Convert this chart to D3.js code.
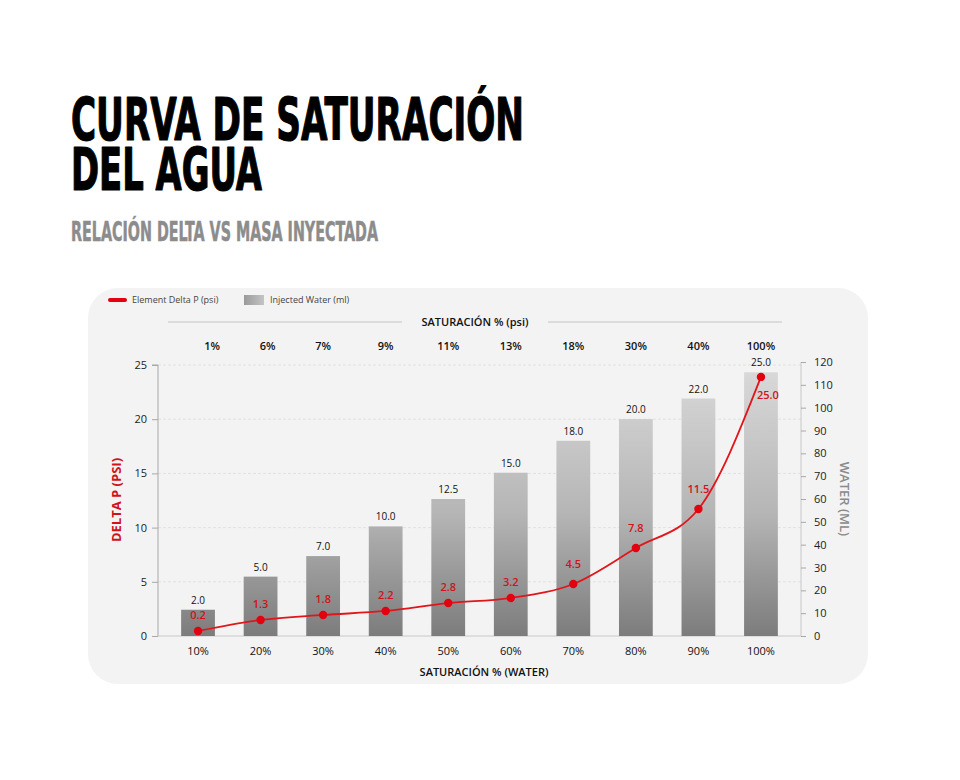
<!DOCTYPE html>
<html>
<head>
<meta charset="utf-8">
<script src="https://cdn.jsdelivr.net/npm/d3@7"></script>
<style>
  html, body { margin: 0; padding: 0; background: #ffffff; }
  svg { display: block; }
  .chart-text { font-family: "Open Sans", "Noto Sans", sans-serif; }
</style>
</head>
<body>
<svg id="chart" width="960" height="780"></svg>
<script>
// Data
const waterSat = ['10%', '20%', '30%', '40%', '50%', '60%', '70%', '80%', '90%', '100%'];
const psiSat = ['1%', '6%', '7%', '9%', '11%', '13%', '18%', '30%', '40%', '100%'];
// printed bar labels and bar heights as drawn (read on the right ml axis)
const waterLabels = [2.0, 5.0, 7.0, 10.0, 12.5, 15.0, 18.0, 20.0, 22.0, 25.0];
const waterMl = [11.5, 26, 35, 48, 60, 71.5, 85.5, 95, 104, 115.5];
// printed delta P labels and point heights as drawn (read on the left psi axis)
const deltaLabels = [0.2, 1.3, 1.8, 2.2, 2.8, 3.2, 4.5, 7.8, 11.5, 25.0];
const deltaP = [0.46, 1.48, 1.94, 2.31, 3.04, 3.51, 4.8, 8.12, 11.72, 23.9];
const leftTicks = [0, 5, 10, 15, 20, 25];
const rightTicks = [0, 10, 20, 30, 40, 50, 60, 70, 80, 90, 100, 110, 120];

const svg = d3.select('#chart');
const titleFont = '"Liberation Sans Narrow", "DejaVu Sans Condensed", "Liberation Sans", sans-serif';

// Titles (one text element, two lines)
const title = svg.append('text')
    .attr('font-family', titleFont).attr('font-weight', 700)
    .attr('font-size', 58).attr('fill', '#000')
    .attr('stroke', '#000').attr('stroke-width', 1.2)
    .attr('stroke-linejoin', 'round');
title.append('tspan')
    .attr('x', 71).attr('y', 140)
    .attr('textLength', 453).attr('lengthAdjust', 'spacingAndGlyphs')
    .text('CURVA DE SATURACIÓN');
title.append('tspan')
    .attr('x', 71).attr('y', 190)
    .attr('textLength', 191).attr('lengthAdjust', 'spacingAndGlyphs')
    .text('DEL AGUA');
svg.append('text')
    .attr('x', 71).attr('y', 241)
    .attr('font-family', titleFont).attr('font-weight', 700)
    .attr('font-size', 26).attr('fill', '#8c8c8c')
    .attr('stroke', '#8c8c8c').attr('stroke-width', 0.5)
    .attr('textLength', 307).attr('lengthAdjust', 'spacingAndGlyphs')
    .text('RELACIÓN DELTA VS MASA INYECTADA');

// Card
svg.append('rect')
    .attr('x', 88).attr('y', 288)
    .attr('width', 780).attr('height', 396)
    .attr('rx', 30)
    .attr('fill', '#f3f3f3');

const g = svg.append('g').attr('class', 'chart-text');

// Scales
const x = d3.scaleBand()
    .domain(waterSat)
    .range([158, 801])
    .paddingInner(0.46)
    .paddingOuter(0.37);
const yLeft = d3.scaleLinear().domain([0, 25]).range([636, 365]);
const yRight = d3.scaleLinear().domain([0, 120]).range([636, 362]);
const cx = i => x(waterSat[i]) + x.bandwidth() / 2;

// Gradient for bars
const defs = svg.append('defs');
const grad = defs.append('linearGradient')
    .attr('id', 'bar-grad')
    .attr('gradientUnits', 'userSpaceOnUse')
    .attr('x1', 0).attr('y1', yLeft(25))
    .attr('x2', 0).attr('y2', yLeft(0));
grad.append('stop').attr('offset', '0%').attr('stop-color', '#dadada');
grad.append('stop').attr('offset', '55%').attr('stop-color', '#b5b5b5');
grad.append('stop').attr('offset', '100%').attr('stop-color', '#7c7c7c');

const legendGrad = defs.append('linearGradient')
    .attr('id', 'legend-grad')
    .attr('x1', 0).attr('y1', 0).attr('x2', 1).attr('y2', 0);
legendGrad.append('stop').attr('offset', '0%').attr('stop-color', '#9a9a9a');
legendGrad.append('stop').attr('offset', '100%').attr('stop-color', '#c4c4c4');

// Gridlines
g.selectAll('.grid')
    .data(leftTicks.filter(d => d > 0))
    .enter().append('line')
    .attr('x1', 158).attr('x2', 801)
    .attr('y1', d => yLeft(d)).attr('y2', d => yLeft(d))
    .attr('stroke', '#dcdcdc')
    .attr('stroke-dasharray', '3,2')
    .attr('stroke-width', 0.8);

// Left axis
const leftAxis = d3.axisLeft(yLeft).tickValues(leftTicks).tickSize(6).tickPadding(5);
const gl = g.append('g').attr('transform', 'translate(158,0)').call(leftAxis);
gl.select('.domain').attr('stroke', '#a8a8a8').attr('d', `M-6,${yLeft(25)}H0V${yLeft(0)}`);
gl.selectAll('.tick line').attr('stroke', '#a8a8a8');
gl.selectAll('.tick text')
    .attr('font-family', '"Open Sans", "Noto Sans", sans-serif')
    .attr('font-size', 11).attr('fill', '#222');

// Right axis
const rightAxis = d3.axisRight(yRight).tickValues(rightTicks).tickSize(5).tickPadding(8);
const gr = g.append('g').attr('transform', 'translate(801,0)').call(rightAxis);
gr.select('.domain').attr('stroke', '#c8c8c8').attr('d', `M0,${yRight(120)}V${yRight(0)}`);
gr.selectAll('.tick line').attr('stroke', '#a8a8a8');
gr.selectAll('.tick text')
    .attr('font-family', '"Open Sans", "Noto Sans", sans-serif')
    .attr('font-size', 11).attr('fill', '#222');

// Baseline
g.append('line')
    .attr('x1', 158).attr('x2', 801)
    .attr('y1', yLeft(0)).attr('y2', yLeft(0))
    .attr('stroke', '#c8c8c8');

// Bars
g.selectAll('.bar')
    .data(waterMl)
    .enter().append('rect')
    .attr('x', (d, i) => x(waterSat[i]))
    .attr('width', x.bandwidth())
    .attr('y', d => yRight(d))
    .attr('height', d => yRight(0) - yRight(d))
    .attr('fill', 'url(#bar-grad)');

// Bar labels
g.selectAll('.bar-label')
    .data(waterMl)
    .enter().append('text')
    .attr('x', (d, i) => cx(i))
    .attr('y', d => yRight(d) - 6)
    .attr('text-anchor', 'middle')
    .attr('font-size', 10).attr('font-weight', 500).attr('fill', '#111')
    .text((d, i) => waterLabels[i].toFixed(1));

// Line
const line = d3.line()
    .x((d, i) => cx(i))
    .y(d => yLeft(d))
    .curve(d3.curveMonotoneX);
g.append('path')
    .datum(deltaP)
    .attr('d', line)
    .attr('fill', 'none')
    .attr('stroke', '#e0161b')
    .attr('stroke-width', 1.8);

g.selectAll('.pt')
    .data(deltaP)
    .enter().append('circle')
    .attr('cx', (d, i) => cx(i))
    .attr('cy', d => yLeft(d))
    .attr('r', 4.2)
    .attr('fill', '#e3000f');

const last = deltaP.length - 1;
g.selectAll('.pt-label')
    .data(deltaP)
    .enter().append('text')
    .attr('x', (d, i) => i === last ? cx(i) + 7 : cx(i))
    .attr('y', (d, i) => i === last ? yLeft(d) + 22 : yLeft(d) - (i < 6 ? 12 : 16))
    .attr('text-anchor', 'middle')
    .attr('font-size', 11).attr('font-weight', 600)
    .attr('fill', '#d0121b')
    .text((d, i) => deltaLabels[i].toFixed(1));

// Bottom category labels
g.selectAll('.xlab')
    .data(waterSat)
    .enter().append('text')
    .attr('x', d => x(d) + x.bandwidth() / 2)
    .attr('y', 655)
    .attr('text-anchor', 'middle')
    .attr('font-size', 11).attr('fill', '#111')
    .text(d => d);

g.append('text')
    .attr('x', 484).attr('y', 676)
    .attr('text-anchor', 'middle')
    .attr('font-size', 11).attr('font-weight', 600).attr('fill', '#111')
    .text('SATURACIÓN % (WATER)');

// Top labels
g.selectAll('.toplab')
    .data(psiSat)
    .enter().append('text')
    .attr('x', (d, i) => cx(i) + (i === 0 ? 14 : i === 1 ? 7 : 0))
    .attr('y', 350)
    .attr('text-anchor', 'middle')
    .attr('font-size', 11).attr('font-weight', 600).attr('fill', '#111')
    .text(d => d);

g.append('text')
    .attr('x', 475).attr('y', 326)
    .attr('text-anchor', 'middle')
    .attr('font-size', 11).attr('font-weight', 600).attr('fill', '#111')
    .text('SATURACIÓN % (psi)');
g.append('line')
    .attr('x1', 168).attr('x2', 402).attr('y1', 322).attr('y2', 322)
    .attr('stroke', '#c4c4c4');
g.append('line')
    .attr('x1', 548).attr('x2', 782).attr('y1', 322).attr('y2', 322)
    .attr('stroke', '#c4c4c4');

// Axis titles
g.append('text')
    .attr('transform', 'translate(121,500) rotate(-90)')
    .attr('text-anchor', 'middle')
    .attr('font-size', 13).attr('font-weight', 700).attr('fill', '#d0121b')
    .text('DELTA P (PSI)');
g.append('text')
    .attr('transform', 'translate(840,499) rotate(90)')
    .attr('text-anchor', 'middle')
    .attr('font-size', 13).attr('font-weight', 600).attr('fill', '#8a8a8a')
    .text('WATER (ML)');

// Legend
g.append('rect')
    .attr('x', 108).attr('y', 298).attr('width', 19).attr('height', 4)
    .attr('rx', 2).attr('fill', '#e3000f');
g.append('text')
    .attr('x', 132).attr('y', 303)
    .attr('font-size', 9).attr('fill', '#444')
    .text('Element Delta P (psi)');
g.append('rect')
    .attr('x', 244).attr('y', 295).attr('width', 20).attr('height', 10)
    .attr('fill', 'url(#legend-grad)');
g.append('text')
    .attr('x', 270).attr('y', 303)
    .attr('font-size', 9).attr('fill', '#444')
    .text('Injected Water (ml)');
</script>
</body>
</html>
